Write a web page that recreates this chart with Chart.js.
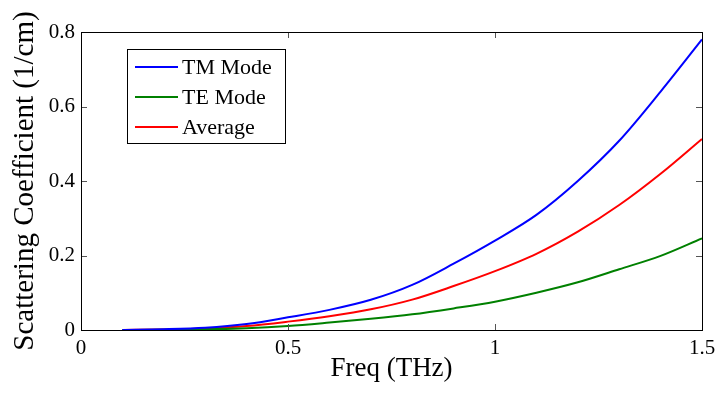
<!DOCTYPE html>
<html><head><meta charset="utf-8">
<script src="https://cdn.jsdelivr.net/npm/chart.js@4"></script>
<style>html,body{margin:0;padding:0;background:#fff}#wrap{width:717px;height:394px}</style>
</head><body><div id="wrap"><canvas id="c" width="717" height="394"></canvas></div>
<script>
const freq = [0.1,0.2,0.3,0.4,0.5,0.6,0.7,0.8,0.9,1.0,1.1,1.2,1.3,1.4,1.5];
const tmMode = [0.0003,0.002,0.006,0.016,0.034,0.054,0.081,0.121,0.178,0.240,0.309,0.400,0.508,0.640,0.780];
const teMode = [0.0001,0.0008,0.002,0.005,0.011,0.020,0.030,0.042,0.058,0.076,0.100,0.128,0.163,0.199,0.246];
const average = [0.0002,0.0014,0.004,0.0105,0.0225,0.037,0.0555,0.0815,0.118,0.158,0.2045,0.264,0.3355,0.4195,0.513];
const seriesNames = ["TM Mode","TE Mode","Average"];
const xTicks = [0,0.5,1,1.5];
const yTicks = [0,0.2,0.4,0.6,0.8];

const FONT = "'Liberation Serif','Times New Roman',serif";
const colors = ["#0000ff","#008000","#ff0000"];
const toPts = ys => freq.map((f,i)=>({x:f,y:ys[i]}));

const framePlugin = {
  id:'frame',
  afterDraw(chart){
    const {ctx, chartArea:a, scales:{x,y}} = chart;
    ctx.save();
    ctx.strokeStyle='#555'; ctx.lineWidth=1;
    const L=6;
    ctx.beginPath();
    xTicks.forEach(v=>{const px=Math.round(x.getPixelForValue(v))+0.5;
      ctx.moveTo(px,a.bottom);ctx.lineTo(px,a.bottom-L);
      ctx.moveTo(px,a.top);ctx.lineTo(px,a.top+L);});
    yTicks.forEach(v=>{const py=Math.round(y.getPixelForValue(v))+0.5;
      ctx.moveTo(a.left,py);ctx.lineTo(a.left+L,py);
      ctx.moveTo(a.right,py);ctx.lineTo(a.right-L,py);});
    ctx.stroke();
    ctx.strokeStyle='#000';
    ctx.strokeRect(Math.round(a.left)+0.5,Math.round(a.top)+0.5,Math.round(a.right-a.left),Math.round(a.bottom-a.top));
    // legend
    const bx=127.5, by=49.5, bw=158, bh=94;
    ctx.fillStyle='#fff'; ctx.fillRect(bx,by,bw,bh);
    ctx.strokeStyle='#000'; ctx.strokeRect(bx,by,bw,bh);
    ctx.font="22px "+FONT; ctx.textBaseline='middle'; ctx.textAlign='left';
    seriesNames.forEach((n,i)=>{
      const ly=67+i*30;
      ctx.strokeStyle=colors[i]; ctx.lineWidth=2;
      ctx.beginPath(); ctx.moveTo(135,ly); ctx.lineTo(178,ly); ctx.stroke();
      ctx.fillStyle='#000'; ctx.fillText(n,182,ly+1);
    });
    ctx.restore();
  }
};

new Chart(document.getElementById('c'),{
  type:'scatter',
  data:{datasets:[tmMode,teMode,average].map((d,i)=>({
    label:seriesNames[i], data:toPts(d), showLine:true, borderColor:colors[i],
    backgroundColor:colors[i], borderWidth:2, pointRadius:0,
    cubicInterpolationMode:'monotone', fill:false
  }))},
  options:{
    responsive:false, animation:false, events:[],
    layout:{padding:{top:32,right:15,left:0,bottom:0}},
    plugins:{legend:{display:false},tooltip:{enabled:false}},
    scales:{
      x:{type:'linear',min:0,max:1.5,
        afterBuildTicks:s=>{s.ticks=xTicks.map(v=>({value:v}));},
        afterFit:s=>{s.height=64;s.paddingLeft=0;s.paddingRight=0;},
        grid:{display:false,drawTicks:false},border:{display:false},
        ticks:{color:'#000',font:{family:FONT,size:21},padding:6,maxRotation:0,
          callback:v=>String(v)},
        title:{display:true,text:'Freq (THz)',color:'#000',font:{family:FONT,size:27},padding:{top:0,bottom:9}}
      },
      y:{type:'linear',min:0,max:0.8,
        afterBuildTicks:s=>{s.ticks=yTicks.map(v=>({value:v}));},
        afterFit:s=>{s.width=81;s.paddingTop=0;s.paddingBottom=0;},
        grid:{display:false,drawTicks:false},border:{display:false},
        ticks:{color:'#000',font:{family:FONT,size:21},padding:6,
          callback:v=>String(v)},
        title:{display:true,text:'Scattering Coefficient (1/cm)',color:'#000',font:{family:FONT,size:29},padding:{top:8,bottom:0}}
      }
    }
  },
  plugins:[framePlugin]
});
</script></body></html>
